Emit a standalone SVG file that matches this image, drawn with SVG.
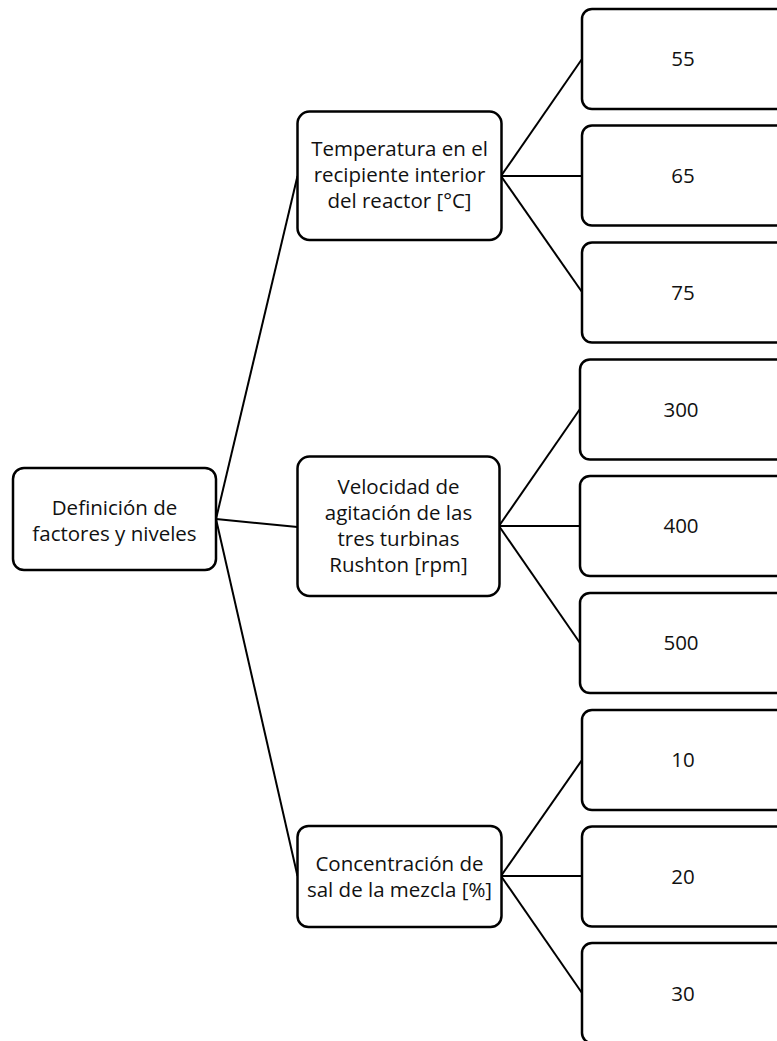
<svg xmlns="http://www.w3.org/2000/svg" width="777" height="1041" viewBox="0 0 777 1041">
<style>
.box{fill:#fff;stroke:#000;stroke-width:2.5}
.con{stroke:#000;stroke-width:2;fill:none}
text{font-family:"Open Sans","Noto Sans",sans-serif;font-size:20.5px;fill:#111;text-anchor:middle}
</style>
<rect width="777" height="1041" fill="#fff"/>
<g id="connectors">
<line class="con" x1="216" y1="519" x2="297.5" y2="176"/>
<line class="con" x1="216" y1="519" x2="297.5" y2="527"/>
<line class="con" x1="216" y1="519" x2="297.5" y2="876"/>
<line class="con" x1="501" y1="176" x2="582" y2="59"/>
<line class="con" x1="501" y1="176" x2="582" y2="176"/>
<line class="con" x1="501" y1="176" x2="582" y2="292"/>
<line class="con" x1="499" y1="526" x2="580" y2="409"/>
<line class="con" x1="499" y1="526" x2="580" y2="526"/>
<line class="con" x1="499" y1="526" x2="580" y2="643"/>
<line class="con" x1="501" y1="876" x2="582" y2="760"/>
<line class="con" x1="501" y1="876" x2="582" y2="876"/>
<line class="con" x1="501" y1="876" x2="582" y2="993"/>
</g>
<g id="root">
<rect class="box" x="13" y="468" width="203" height="102" rx="11"/>
<text x="114.5" y="515">Definición de</text>
<text x="114.5" y="541">factores y niveles</text>
</g>
<g id="temperatura">
<rect class="box" x="297.5" y="111.5" width="204" height="128.5" rx="12"/>
<text x="399.5" y="156">Temperatura en el</text>
<text x="399.5" y="182">recipiente interior</text>
<text x="399.5" y="208">del reactor [°C]</text>
</g>
<g id="velocidad">
<rect class="box" x="297.5" y="456.5" width="202" height="139.5" rx="12"/>
<text x="398.5" y="494">Velocidad de</text>
<text x="398.5" y="520">agitación de las</text>
<text x="398.5" y="546">tres turbinas</text>
<text x="398.5" y="572">Rushton [rpm]</text>
</g>
<g id="concentracion">
<rect class="box" x="297.5" y="826" width="204" height="101" rx="11"/>
<text x="399.5" y="871">Concentración de</text>
<text x="399.5" y="897">sal de la mezcla [%]</text>
</g>
<g id="leaf-55"><rect class="box" x="582" y="9" width="210" height="100" rx="10"/><text x="683" y="66">55</text></g>
<g id="leaf-65"><rect class="box" x="582" y="125.5" width="210" height="100" rx="10"/><text x="683" y="183">65</text></g>
<g id="leaf-75"><rect class="box" x="582" y="242.5" width="210" height="100" rx="10"/><text x="683" y="300">75</text></g>
<g id="leaf-300"><rect class="box" x="580" y="359.5" width="210" height="100" rx="10"/><text x="681" y="417">300</text></g>
<g id="leaf-400"><rect class="box" x="580" y="476" width="210" height="100" rx="10"/><text x="681" y="533">400</text></g>
<g id="leaf-500"><rect class="box" x="580" y="593" width="210" height="100" rx="10"/><text x="681" y="650">500</text></g>
<g id="leaf-10"><rect class="box" x="582" y="710" width="210" height="100" rx="10"/><text x="683" y="767">10</text></g>
<g id="leaf-20"><rect class="box" x="582" y="826.5" width="210" height="100" rx="10"/><text x="683" y="884">20</text></g>
<g id="leaf-30"><rect class="box" x="582" y="943" width="210" height="100" rx="10"/><text x="683" y="1001">30</text></g>
</svg>
